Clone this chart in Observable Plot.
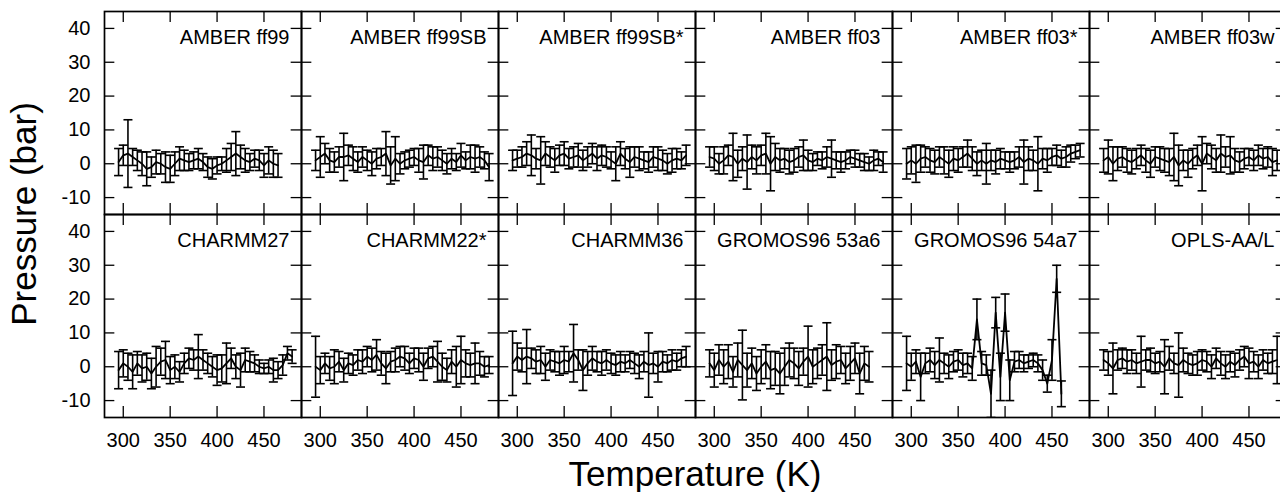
<!DOCTYPE html>
<html><head><meta charset="utf-8">
<script src="https://cdn.jsdelivr.net/npm/d3@7"></script>
<script src="https://cdn.jsdelivr.net/npm/@observablehq/plot@0.6"></script>
<style>
html,body{margin:0;padding:0;background:#fff;overflow:hidden;}
#wrap{position:relative;width:1280px;height:492px;overflow:hidden;}
#chart svg{max-width:none !important;}
#titles{position:absolute;left:0;top:0;pointer-events:none;}
</style></head><body>
<div id="wrap"><div id="chart"></div>
<svg id="titles" width="1280" height="492" font-family="Liberation Sans, Arial, sans-serif" font-size="35" fill="black">
<text transform="translate(36,214) rotate(-90)" text-anchor="middle">Pressure (bar)</text>
<text x="695" y="486" text-anchor="middle">Temperature (K)</text>
</svg></div>
<script>
const temperatures = [295,300,305,310,315,320,325,330,335,340,345,350,355,360,365,370,375,380,385,390,395,400,405,410,415,420,425,430,435,440,445,450,455,460,465,470,475,480];
const panelNames = ["AMBER ff99","AMBER ff99SB","AMBER ff99SB*","AMBER ff03","AMBER ff03*","AMBER ff03w","CHARMM27","CHARMM22*","CHARMM36","GROMOS96 53a6","GROMOS96 54a7","OPLS-AA/L"];
const xTicks = [300,350,400,450];
const yTicks = [-10,0,10,20,30,40];

const mean_ff99 = [0.5,2.5,3,2,1,0,-1.5,-1,0.5,0,-1,-1.5,0,1.5,1,0.5,1,1.5,0.5,-1,-1.5,-0.5,0,1,2,3,2,1,0.5,1.5,1,-0.5,1,0,-0.5];
const err_ff99  = [4,3,10,2.5,3,3.5,5,3,3.5,3,4.5,4,3.5,3.5,3,2.5,2.5,3,2.5,3,3,2.5,2,3.5,4,6.5,3.5,3.5,2.5,2.5,3,3.5,4,4,3.5];

const mean_ff99SB = [1,2,3,1,0.5,2,2,2.5,1.5,0.5,2,1,0,1.5,2,3,-0.5,1.5,0,1,1.5,2,1,0.5,2.5,1.5,2,1,0,1.5,0.5,2.5,1,2,1.5,2,1,-1];
const err_ff99SB  = [3,6,3,3.5,3,3,7,3,3.5,3,3,3,3.5,3,2.5,6.5,5.5,6.5,3,2.5,2.5,2.5,3.5,5,3,3.5,3,3,3,3,2.5,3.5,2.5,3.5,4,3,2.5,4];

const mean_ff99SBs = [1,1.5,2,3,2.5,1.5,1,3,2,1,2.5,3,1.5,2,2.5,1,2,3,1.5,2.5,2,1,0,3,1.5,0.5,2,1.5,1,0.5,2,1.5,1,0,1,1.5,1,2.5];
const err_ff99SBs  = [3,2.5,3,3.5,6,3,7,3.5,3,3.5,3,3.5,3,3,3.5,3,3,3,3.5,3,3,2.5,5,3.5,3,4.5,3,3.5,2.5,3,3,3.5,3,3,3.5,3,2.5,3];

const mean_ff03 = [2,1.5,0,1,2.5,2,0,1.5,0.5,2,1,2.5,3,0,2,1,1.5,0.5,1,2,2.5,1,0.5,1.5,1,2,1.5,1,0.5,1,2,1.5,1,0.5,0,1,1.5,0.5];
const err_ff03  = [3,3.5,3,4,3,7,4,3.5,8,3.5,4,3,6,8,4,3.5,3,3.5,3.5,3,4.5,3,2.5,2,2.5,3,5.5,2.5,3,2.5,2,2.5,2,2.5,2,3,2,3];

const mean_ff03s = [0,1,0,1.5,2,1,0.5,2,1,0,1.5,1,2,3,1.5,0,1,0,1,0.5,1.5,1,0.5,1,2,0.5,1.5,1,0,1.5,1,2,2.5,1.5,2,3,3.5,4];
const err_ff03s  = [4.5,4,5.5,4,3,3.5,3.5,3,4,4,3.5,3.5,3,4,3.5,3.5,3,6,3,3.5,3,2.5,3,2.5,3,6.5,3.5,3,8,3,3.5,2.5,3,2.5,3,2.5,2,2];

const mean_ff03w = [1,2,0,1.5,2,1,0.5,1.5,2.5,1,0,2,1.5,1,0.5,2,-0.5,1,0,1.5,2.5,0,3,2,1,3,2,2.5,1,0.5,1.5,2,1,2.5,1.5,2,0.5,1];
const err_ff03w  = [3.5,5,5,3.5,3,3.5,3.5,3,3,3.5,4,3,3.5,3.5,4,7,6,3,4,3,3,8,3,3.5,3.5,5.5,3,5.5,3.5,3,3,2.5,3,3,3,3,4,3];

const mean_c27 = [-1,1,0,-1.5,1,-0.5,0,-2,0,1.5,2,-1,0,-1.5,1,2.5,2,3,2,1,0,-1,-0.5,1,2.5,0,-1,2,1.5,1,0,-0.5,0,-1,-1,0.5,4,3];
const err_c27  = [5.5,4,4,5,3.5,4,4,4.5,6,4,5.5,4,3.5,3,3,3,3,6.5,3,3,3,4.5,4,6,3,3.5,5,3.5,3,2.5,2,1.5,2,3.5,2.5,3,2,2];

const mean_c22s = [0,-1,1,-0.5,0,1.5,-1,1,0.5,2,1.5,3,2,3.5,1,-0.5,1.5,2,3,2.5,1,2.5,2,0,2.5,3,1.5,0,-1,1.5,0,2,1,0.5,1,1,0,0.5];
const err_c22s  = [9,4,3,3.5,5,3,3.5,3,3,3,3.5,3,3.5,4.5,3.5,4.5,3,3.5,3,3.5,3,3,3.5,4,3,3,6,4,3.5,3.5,6,7,4,3.5,6,3.5,3,2.5];

const mean_c36 = [1,3,2,3,2.5,1.5,2,0,2,1.5,1,2,1.5,4,2,-1,1,2.5,1.5,1,2,1,0.5,1.5,1,2,1,0,1.5,0.5,1,0,1.5,1,2,1.5,2.5,3];
const err_c36  = [9.5,4,3.5,8,3,3.5,4,4,3,3,3.5,4,3,8.5,3,6,3.5,3.5,3,3.5,3,3,3,3,2.5,2.5,3,3.5,3,9.5,3,4.5,3,2.5,3,2.5,2.5,3];

const mean_g53a6 = [1,-1,2,0,1.5,-1.5,2,0.5,-1,1,-2,0,1.5,-1,-0.5,-2,0,2,1,-0.5,1.5,3,0,1,2,3,0.5,1.5,2,-0.5,1,2.5,-2,1,0];
const err_g53a6  = [4,5,4.5,5,5,4.5,5,10.3,5,4.5,5,5,5,5.5,5,6,5.5,5,4.5,5,4,9,5,4.5,4.5,10,4.5,5,4,4.5,5,4.5,6,5,4.5];

const mean_g54a7 = [1,0,1.5,-3,1,2,0.5,2,1,0,1.5,2,0.5,1,-0.5,14,1,0.5,-8,16,-3,16,-4,1.5,2,1,1.5,2,1,-1,-5,2,26,-8];
const err_g54a7  = [8,4,3.5,7,3,3.5,4,6.5,3,3.5,3,3,3.5,3,3.5,6,3.5,3,7,4.5,7,5.5,6,3,2.5,2.5,2,2,2.5,3,2.5,6,4,3.8];

const mean_opls = [2,1,-0.5,2,2.5,1.5,2,1,1.5,2,2,1,1.5,0,2.5,1,0.5,2,1,0.5,1,2,1.5,0,2.5,1,0,1.5,0.5,2,3,1,1.5,0,2,1,1.5,2];
const err_opls  = [3,3.5,7.5,3,3,3.5,3,3,7.5,3,3.5,3,3,8,3.5,3,9.5,3.5,3,3,3.5,3,3,3.5,3,3.5,3.5,3,3.5,3,3,4.5,3,3.5,3,3,3.5,7];

const means = [mean_ff99, mean_ff99SB, mean_ff99SBs, mean_ff03, mean_ff03s, mean_ff03w, mean_c27, mean_c22s, mean_c36, mean_g53a6, mean_g54a7, mean_opls];
const errs  = [err_ff99, err_ff99SB, err_ff99SBs, err_ff03, err_ff03s, err_ff03w, err_c27, err_c22s, err_c36, err_g53a6, err_g54a7, err_opls];

const rows = [];
panelNames.forEach((name, i) => {
  means[i].forEach((m, j) => {
    rows.push({panel: name, col: i % 6, row: Math.floor(i / 6), T: temperatures[j], m, lo: m - errs[i][j], hi: m + errs[i][j]});
  });
});
const labels = panelNames.map((name, i) => ({name, col: i % 6, row: Math.floor(i / 6)}));

const W = 1290, H = 492, mL = 102, mR = 2, mT = 11, mB = 75;
const facetW = (W - mL - mR) / 6, facetH = (H - mT - mB) / 2;
const tickLen = 11;
const capSymbol = {draw(ctx) { ctx.moveTo(-4.5, 0); ctx.lineTo(4.5, 0); }};
const lw = 1.6;

const chart = Plot.plot({
  width: W, height: H,
  marginLeft: mL, marginRight: mR, marginTop: mT, marginBottom: mB,
  style: {fontFamily: "Liberation Sans, Arial, sans-serif", fontSize: "20px", color: "black", background: "white", maxWidth: "none"},
  x: {domain: [280, 490]},
  y: {domain: [-15, 45]},
  fx: {domain: [0,1,2,3,4,5], padding: 0, axis: null},
  fy: {domain: [0,1], padding: 0, axis: null},
  marks: [
    Plot.ruleX(rows, {x: "T", y1: "lo", y2: "hi", fx: "col", fy: "row", stroke: "black", strokeWidth: lw, clip: true}),
    Plot.dot(rows, {x: "T", y: "hi", fx: "col", fy: "row", symbol: capSymbol, stroke: "black", fill: "none", strokeWidth: lw, clip: true}),
    Plot.dot(rows, {x: "T", y: "lo", fx: "col", fy: "row", symbol: capSymbol, stroke: "black", fill: "none", strokeWidth: lw, clip: true}),
    Plot.line(rows, {x: "T", y: "m", z: "panel", fx: "col", fy: "row", stroke: "black", strokeWidth: 1.8, clip: true}),
    Plot.tickY(yTicks, {y: d => d, insetRight: facetW - tickLen, stroke: "black", strokeWidth: 1.3}),
    Plot.tickY(yTicks, {y: d => d, insetLeft: facetW - tickLen, stroke: "black", strokeWidth: 1.3}),
    Plot.tickX(xTicks, {x: d => d, insetBottom: facetH - tickLen, stroke: "black", strokeWidth: 1.3}),
    Plot.tickX(xTicks, {x: d => d, insetTop: facetH - tickLen, stroke: "black", strokeWidth: 1.3}),
    Plot.frame({stroke: "black", strokeWidth: 1.7}),
    Plot.axisY({anchor: "left", ticks: yTicks, tickSize: 0, tickPadding: 14, label: null, tickFormat: d => String(d)}),
    Plot.axisX({anchor: "bottom", ticks: xTicks, tickSize: 0, tickPadding: 15, label: null, tickFormat: d => String(d)}),
    Plot.text(labels, {fx: "col", fy: "row", text: "name", frameAnchor: "top-right", textAnchor: "end", lineAnchor: "top", dx: -12, dy: 18, fontSize: 20})
  ]
});
document.getElementById("chart").appendChild(chart);
</script>
</body></html>
